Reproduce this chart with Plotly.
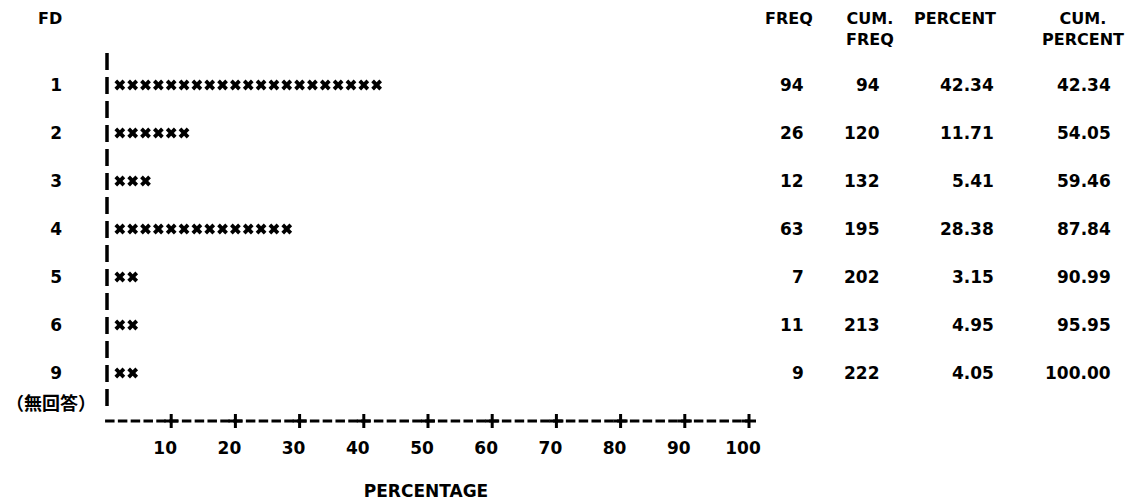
import plotly.graph_objects as go

# Frequency table for variable FD
fd_levels = ["1", "2", "3", "4", "5", "6", "9"]
freq = [94, 26, 12, 63, 7, 11, 9]
cum_freq = [94, 120, 132, 195, 202, 213, 222]
percent = [42.34, 11.71, 5.41, 28.38, 3.15, 4.95, 4.05]
cum_percent = [42.34, 54.05, 59.46, 87.84, 90.99, 95.95, 100.00]
pct_ticks = [10, 20, 30, 40, 50, 60, 70, 80, 90, 100]
star_unit = 2  # each symbol stands for 2 percent

W, H = 1127, 504
ZERO_PX, HUNDRED_PX = 107, 749      # where 0 % and 100 % fall
PX_PER_PCT = (HUNDRED_PX - ZERO_PX) / 100
PLOT_L, PLOT_R = 96, 756            # plot area a little wider so axis strokes are not clipped
PLOT_B = 435
ROW0_PX, ROW_PX = 85, 48

FONT = dict(family="DejaVu Sans", size=17, color="black", weight="bold")
HEAD_FONT = dict(family="DejaVu Sans", size=16, color="black", weight="bold")
CJK_FONT = dict(family="Noto Sans CJK JP", size=18, color="black", weight="bold")


def px_x(px):
    """Horizontal pixel -> paper coordinate."""
    return (px - PLOT_L) / (PLOT_R - PLOT_L)


def px_row(py):
    """Vertical pixel -> row index on the y axis."""
    return (py - ROW0_PX) / ROW_PX


x_lo = -(ZERO_PX - PLOT_L) / PX_PER_PCT
x_hi = 100 + (PLOT_R - HUNDRED_PX) / PX_PER_PCT

fig = go.Figure()

# bars made of symbols, one per 2 percent
for i, p in enumerate(percent):
    n = int(round(p / star_unit))
    xs = [star_unit * k for k in range(1, n + 1)]
    fig.add_trace(go.Scatter(
        x=xs, y=[i] * n, mode="markers",
        marker=dict(symbol="x", size=9.5, color="black", line=dict(width=0)),
        showlegend=False, hoverinfo="skip", cliponaxis=False,
    ))

# vertical axis drawn as stacked bars
fig.add_trace(go.Scatter(
    x=[0, 0], y=[px_row(53), px_row(411)], mode="lines",
    line=dict(color="black", width=3.5, dash="17px,7px"),
    showlegend=False, hoverinfo="skip", cliponaxis=False,
))

# horizontal axis drawn as dashes with plus marks at every 10 percent
fig.add_trace(go.Scatter(
    x=[-0.3, 100], y=[7, 7], mode="lines",
    line=dict(color="black", width=3, dash="9.5px,3.3px"),
    showlegend=False, hoverinfo="skip", cliponaxis=False,
))
fig.add_trace(go.Scatter(
    x=pct_ticks, y=[7] * len(pct_ticks), mode="markers",
    marker=dict(symbol="cross-thin", size=10, color="black",
                line=dict(width=3, color="black")),
    showlegend=False, hoverinfo="skip", cliponaxis=False,
))

annotations = []

# header row
headers = [("FD", 50), ("FREQ", 789), ("CUM.<br>FREQ", 870),
           ("PERCENT", 955), ("CUM.<br>PERCENT", 1083)]
for text, cx in headers:
    annotations.append(dict(
        text=text, x=px_x(cx), xref="paper", y=px_row(17), yref="y",
        xanchor="center", yanchor="top", yshift=10, align="center",
        showarrow=False, font=HEAD_FONT,
    ))

# table columns, right aligned
columns = [
    (freq, 806, "{:d}"),
    (cum_freq, 882, "{:d}"),
    (percent, 996, "{:.2f}"),
    (cum_percent, 1113, "{:.2f}"),
]
for values, right_px, fmt in columns:
    for i, v in enumerate(values):
        annotations.append(dict(
            text=fmt.format(v), x=px_x(right_px), xref="paper", y=i, yref="y",
            xanchor="right", yanchor="middle", showarrow=False, font=FONT,
        ))

# note under the last level
annotations.append(dict(
    text="（無回答）", x=px_x(4), xref="paper", y=px_row(402), yref="y",
    xanchor="left", yanchor="middle", showarrow=False, font=CJK_FONT,
))

fig.update_layout(
    width=W, height=H,
    margin=dict(l=PLOT_L, r=W - PLOT_R, t=0, b=H - PLOT_B, pad=0),
    paper_bgcolor="white", plot_bgcolor="white",
    showlegend=False,
    annotations=annotations,
    xaxis=dict(
        range=[x_lo, x_hi], tickvals=pct_ticks, ticktext=[str(t) for t in pct_ticks],
        ticks="", showline=False, showgrid=False, zeroline=False,
        tickfont=FONT, ticklabelstandoff=1, ticklabelshift=-6,
        title=dict(text="PERCENTAGE", font=FONT, standoff=28),
        fixedrange=True,
    ),
    yaxis=dict(
        range=[px_row(PLOT_B), px_row(0)], tickvals=list(range(len(fd_levels))),
        ticktext=fd_levels, ticks="", showline=False, showgrid=False,
        zeroline=False, tickfont=FONT, ticklabelstandoff=33, fixedrange=True,
    ),
)

fig.write_html("out.html")
